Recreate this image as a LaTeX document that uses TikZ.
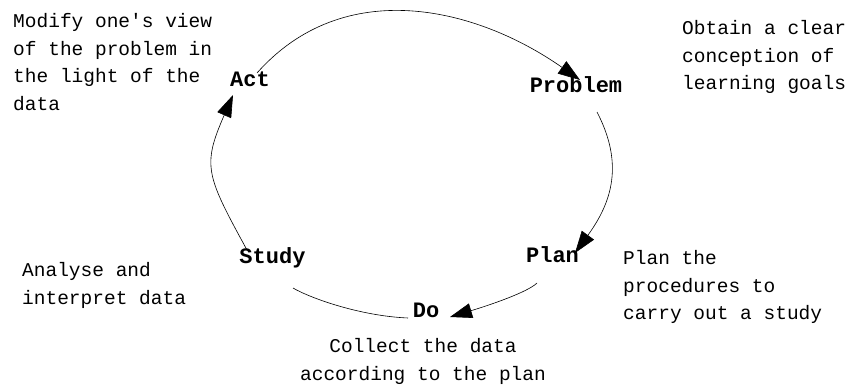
\documentclass[tikz,border=0pt]{standalone}
\usepackage{fontspec}
\newfontfamily\monofam{Liberation Mono}
\usetikzlibrary{arrows.meta}
\begin{document}
\begin{tikzpicture}[x=1pt,y=1pt,
  lab/.style={font=\monofam\bfseries\fontsize{22}{24}\selectfont, inner sep=0pt, anchor=base},
  desc/.style={font=\monofam\fontsize{19.5}{27.5}\selectfont, inner sep=0pt},
  arr/.style={line width=0.6pt, -{Triangle[length=22pt,width=15pt]}},
  plain/.style={line width=0.6pt}]
\useasboundingbox (0,0) rectangle (862,391);
\fill[white] (0,0) rectangle (862,391);
% labels
\node[lab] (act) at (250,304) {Act};
\node[lab] (problem) at (576,298) {Problem};
\node[lab] (plan) at (552.5,128) {Plan};
\node[lab] (do) at (426,74) {Do};
\node[lab] (study) at (272.5,127) {Study};
% descriptions (base anchor = baseline of the last line)
\node[desc, align=left, anchor=base west] (dact) at (13,280.5) {Modify one's view\\of the problem in\\the light of the\\data};
\node[desc, align=left, anchor=base west] (dproblem) at (682,301) {Obtain a clear\\conception of\\learning goals};
\node[desc, align=left, anchor=base west] (dstudy) at (22,86.5) {Analyse and\\interpret data};
\node[desc, align=center, anchor=base] (ddo) at (423,11) {Collect the data\\according to the plan};
\node[desc, align=left, anchor=base west] (dplan) at (623,71) {Plan the\\procedures to\\carry out a study};
% connectors
\draw[arr] ([shift={(7,14)}]act.base) .. controls (344,416) and (476,384) .. ([shift={(4,13)}]problem.base);
\draw[arr] ([shift={(21,-19)}]problem.base) .. controls (624,227) and (612,189) .. ([shift={(22.5,10)}]plan.base);
\draw[arr] ([shift={(-15.5,-20)}]plan.base) .. controls (528,99) and (490,86) .. ([shift={(24,0)}]do.base);
\draw[plain] ([shift={(20.5,-24)}]study.base) .. controls (310,93) and (360,75) .. ([shift={(-18,-1)}]do.base);
\draw[arr] ([shift={(-25.5,14)}]study.base) .. controls (206,216) and (202,225) .. ([shift={(-17,-8)}]act.base);
\end{tikzpicture}
\end{document}
